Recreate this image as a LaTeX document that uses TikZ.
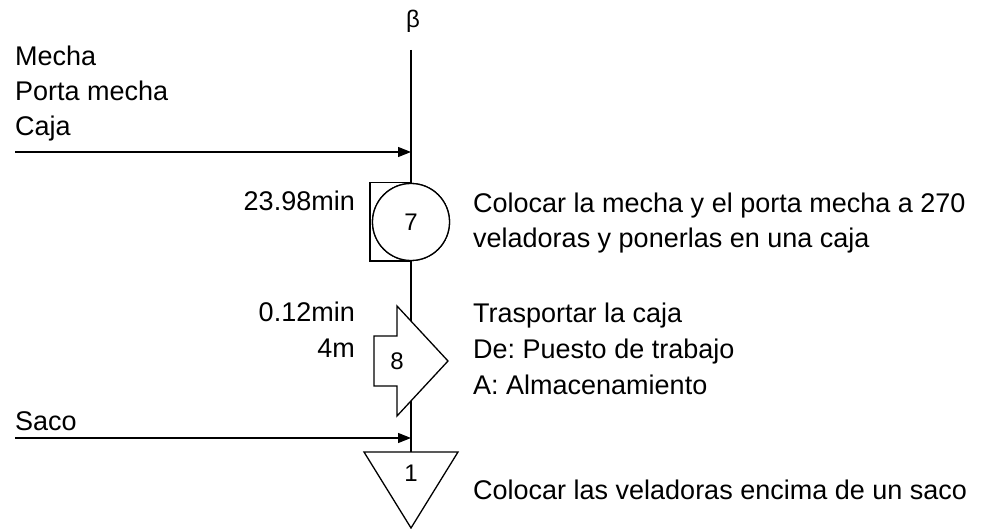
\documentclass[tikz,border=0pt]{standalone}
\usepackage{fontspec}
\setmainfont{Liberation Sans}
\frenchspacing
\usetikzlibrary{arrows.meta,positioning,calc}

\tikzset{
    flow/.style={line width=1.3pt},
    inarrow/.style={flow, -{Triangle[length=13pt,width=10pt]}},
    txt/.style={inner sep=0pt, font=\fontsize{27}{35}\selectfont},
    num/.style={inner sep=0pt, font=\fontsize{24}{28}\selectfont}
}

\begin{document}
\begin{tikzpicture}[x=1pt, y=-1pt]
    \useasboundingbox[fill=white] (0,0) rectangle (990,529);

    % Main line
    \node[inner sep=0pt, font=\fontsize{24}{28}\selectfont, anchor=base] (beta) at (413,28) {β};
    \coordinate (top) at (411,50);
    \coordinate (j1) at (411,152);
    \coordinate (j2) at (411,438);

    % Inputs
    \foreach \y/\t [count=\i] in {66/Mecha, 101/Porta mecha, 136/Caja} {
        \node[txt, anchor=base west] (mat\i) at (15,\y) {\t};
    }
    \node[txt, anchor=base west] (saco) at (15,430) {Saco};
    \coordinate (in1) at (15,152);
    \coordinate (in2) at (15,438);

    % Combined operation 7
    \node[flow, draw, circle, minimum size=77pt, inner sep=0pt, num] (op7) at (411,222) {};
    \draw[flow] (op7.north) -- ++(-41,0) |- (op7.south);
    \node[flow, draw, circle, minimum size=77pt, fill=white, num] at (op7.center) {7};

    % Transport 8
    \coordinate (tr8) at (397,361);
    \draw[flow] (tr8) ++(-23,-25) -- ++(23,0) -- ++(0,-30) -- ++(51,55)
        -- ++(-51,55) -- ++(0,-30) -- ++(-23,0) -- cycle;
    \node[num] (n8) at (tr8) {8};
    \coordinate (tr8in) at (411,321);
    \coordinate (tr8out) at (411,401);

    % Storage 1
    \coordinate (al1) at (411,452);
    \draw[flow] (al1) ++(-47,0) -- ++(94,0) -- ++(-47,76) -- cycle;
    \node[num] (n1) at (411,473) {1};

    % Connectors
    \draw[flow] (top) -- (op7.north);
    \draw[flow] (op7.south) -- (tr8in);
    \draw[flow] (tr8out) -- (al1);
    \draw[inarrow] (in1) -- (j1);
    \draw[inarrow] (in2) -- (j2);

    % Times and distances
    \node[txt, anchor=base east] (t7) at (355,211) {23.98min};
    \node[txt, anchor=base east] (t8) at (355,321) {0.12min};
    \node[txt, anchor=base east] (d8) at (355,357) {4m};

    % Descriptions
    \node[txt, anchor=base west] (desc7a) at (473,213) {Colocar la mecha y el porta mecha a 270};
    \node[txt, anchor=base west] (desc7b) at (473,248) {veladoras y ponerlas en una caja};
    \node[txt, anchor=base west] (desc8a) at (473,322) {Trasportar la caja};
    \node[txt, anchor=base west] (desc8b) at (473,358) {De: Puesto de trabajo};
    \node[txt, anchor=base west] (desc8c) at (473,394) {A: Almacenamiento};
    \node[txt, anchor=base west] (desc1) at (473,499) {Colocar las veladoras encima de un saco};
\end{tikzpicture}
\end{document}
